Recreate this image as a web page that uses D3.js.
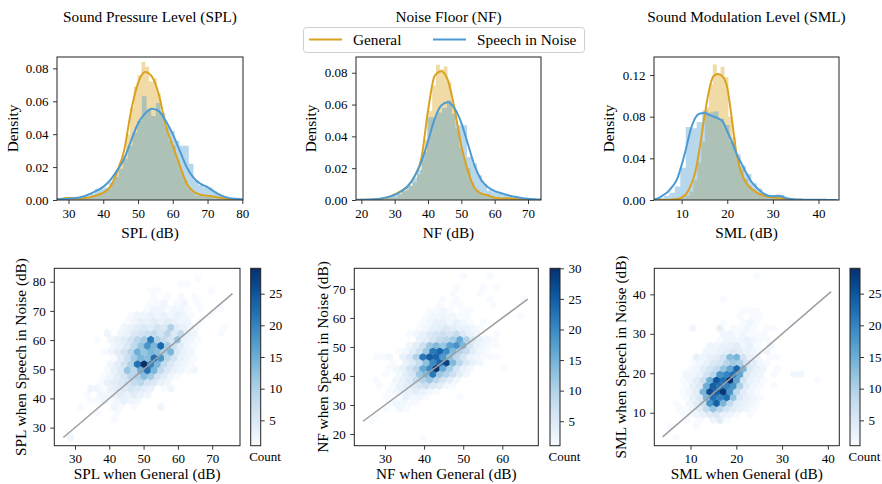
<!DOCTYPE html>
<html>
<head>
<meta charset="utf-8">
<script src="https://cdn.jsdelivr.net/npm/d3@7"></script>
<style>
  body { margin: 0; background: #fff; }
  text { font-family: "Liberation Serif", "Times New Roman", serif; fill: #000; }
</style>
</head>
<body>
<svg id="chart" width="882" height="484"></svg>
<script>
// ---------- shared labels ----------
const metricTitles = ["Sound Pressure Level (SPL)", "Noise Floor (NF)", "Sound Modulation Level (SML)"];
const metricShort = ["SPL", "NF", "SML"];
const seriesNames = ["General", "Speech in Noise"];
const seriesColors = ["#DAA21E", "#4C9BD2"];

// ---------- SPL ----------
const splKdeX = [26,28,30,32,34,36,38,40,42,44,46,48,50,52,54,56,58,60,62,64,66,68,70,72,74,76,78,80];
const splKdeGeneral = [0.0002,0.0008,0.0012,0.0008,0.0010,0.0016,0.0028,0.0045,0.0080,0.0170,0.0300,0.0540,0.0710,0.0778,0.0750,0.0640,0.0450,0.0330,0.0210,0.0100,0.0050,0.0032,0.0026,0.0020,0.0012,0.0005,0.0001,0.0000];
const splKdeSpeech = [0.0004,0.0006,0.0008,0.0012,0.0020,0.0035,0.0055,0.0080,0.0120,0.0180,0.0250,0.0360,0.0465,0.0525,0.0555,0.0540,0.0480,0.0400,0.0300,0.0200,0.0135,0.0098,0.0078,0.0050,0.0027,0.0013,0.0007,0.0004];
const splHistGeneralBins = [29.0, 1.1];   // first edge, bin width
const splHistGeneral = [0.0018,0.0009,0,0,0.0009,0.0009,0.0018,0.0027,0.0036,0.0036,0.0055,0.0064,0.0110,0.0155,0.0230,0.0270,0.0400,0.0560,0.0690,0.0760,0.0840,0.0810,0.0720,0.0740,0.0650,0.0520,0.0440,0.0360,0.0330,0.0240,0.0180,0.0120,0.0070,0.0045,0.0027,0.0027,0.0018,0.0018,0.0027,0.0009,0.0009];
const splHistSpeechBins = [26.8, 1.35];
const splHistSpeech = [0.0008,0,0,0.0008,0.0008,0.0015,0.0023,0.0038,0.0068,0.0068,0.0076,0.0106,0.0140,0.0190,0.0250,0.0330,0.0410,0.0480,0.0630,0.0550,0.0510,0.0590,0.0530,0.0450,0.0420,0.0360,0.0330,0.0330,0.0220,0.0120,0.0090,0.0076,0.0076,0.0053,0.0038,0.0023,0.0015,0.0008,0,0.0008,0.0008];
const splXTicks = [30,40,50,60,70,80];
const splDensityTicks = [0,0.02,0.04,0.06,0.08];
// hexagon lattice: x origin, column width, y origin, row step
const splHexGrid = [28.7, 1.95, 26.6, 2.1];
// [row, first column, counts per column]
const splHexRows = [
  [0,0,[2]],
  [3,6,[1]],
  [4,4,[1,0,0,1]],
  [5,1,[1,0,0,0,0,2,1,0,1,0,0,0,2]],
  [6,3,[1,1,2,1,2,3,2,2]],
  [7,2,[1,0,2,2,3,4,3,4,3,2]],
  [8,3,[2,2,1,3,4,5,6,5,4,3,0,1,2]],
  [9,4,[1,3,4,5,6,8,9,6,5,3,2]],
  [10,5,[1,2,4,6,9,10,13,11,6,4,2,1]],
  [11,5,[1,3,5,12,9,15,22,14,8,5,3,2,1,2]],
  [12,6,[2,4,6,10,22,29,20,14,8,5,3,2,1]],
  [13,6,[1,4,7,11,14,13,22,18,9,6,3,2,1]],
  [14,5,[1,2,4,6,9,15,12,14,13,10,14,5,3,2]],
  [15,6,[2,3,5,8,12,18,14,23,11,7,4,2,1]],
  [16,4,[1,0,2,3,4,6,9,11,21,10,8,6,12,3,2,1]],
  [17,5,[2,0,2,3,5,6,7,8,6,9,5,8,3,2,0,0,0,1]],
  [18,8,[2,3,4,5,4,6,5,10,4,3,2,1,0,0,0,1]],
  [19,8,[1,2,3,3,4,3,4,3,2,2,0,1]],
  [20,9,[1,2,2,3,2,3,2,3,2,1,0,0,1]],
  [21,11,[1,2,2,1,2,2,1,0,1,0,0,1]],
  [22,12,[1,1,2,0,1,2,0,1]],
  [23,12,[1,0,1,0,1,0,1]],
  [24,12,[1,1,0,0,0,0,0,0,0,1]],
  [25,16,[1,1]],
  [26,19,[1]]
];
const splIdentity = [26.6, 75.9];
const splHexXTicks = [30,40,50,60,70];
const splHexYTicks = [30,40,50,60,70,80];
const splCountTicks = [5,10,15,20,25];

// ---------- NF ----------
const nfKdeX = [18,20,22,24,26,28,30,32,34,36,38,40,42,44,46,48,50,52,54,56,58,60,62,64,66,68,70,72,74];
const nfKdeGeneral = [0,0.0001,0.0002,0.0003,0.0006,0.0017,0.0035,0.0058,0.0088,0.0150,0.0260,0.0560,0.0780,0.0810,0.0750,0.0570,0.0340,0.0180,0.0075,0.0040,0.0030,0.0014,0.0010,0.0011,0.0006,0.0002,0.0001,0,0];
const nfKdeSpeech = [0.0001,0.0001,0.0003,0.0005,0.0010,0.0018,0.0032,0.0055,0.0088,0.0150,0.0240,0.0370,0.0510,0.0595,0.0615,0.0575,0.0485,0.0350,0.0215,0.0125,0.0080,0.0056,0.0042,0.0030,0.0020,0.0013,0.0008,0.0005,0.0003];
const nfHistGeneralBins = [24.0, 1.15];
const nfHistGeneral = [0.0009,0,0,0.0009,0.0018,0.0018,0.0045,0.0055,0.0064,0.0090,0.0110,0.0160,0.0250,0.0380,0.0560,0.0720,0.0850,0.0820,0.0840,0.0740,0.0600,0.0450,0.0330,0.0260,0.0200,0.0110,0.0064,0.0045,0.0036,0.0036,0.0027,0.0009,0.0009,0.0009,0.0009,0.0009,0,0.0009];
const nfHistSpeechBins = [18.7, 1.5];
const nfHistSpeech = [0.0006,0,0,0.0006,0.0006,0.0012,0.0018,0.0030,0.0036,0.0060,0.0090,0.0140,0.0190,0.0300,0.0520,0.0520,0.0550,0.0580,0.0627,0.0540,0.0470,0.0470,0.0270,0.0230,0.0155,0.0100,0.0060,0.0048,0.0042,0.0030,0.0024,0.0018,0.0012,0.0006,0.0006,0,0.0006];
const nfXTicks = [20,30,40,50,60,70];
const nfDensityTicks = [0,0.02,0.04,0.06,0.08];
const nfHexGrid = [24.2, 1.72, 18.75, 1.99];
const nfHexRows = [
  [0,9,[1]],
  [3,1,[1]],
  [4,2,[1]],
  [5,3,[1,0,2,1]],
  [6,4,[1,2,2,1,1]],
  [7,3,[1,1,1,3,2,2,1,0,0,0,0,1]],
  [8,4,[1,2,3,3,4,3,2,1]],
  [9,2,[1,0,1,3,4,5,6,7,5,4,2,1]],
  [10,2,[1,0,0,2,3,5,8,10,12,9,6,4,2]],
  [11,3,[1,0,2,4,6,12,14,22,12,10,7,4,2]],
  [12,4,[1,2,3,6,9,16,20,30,16,11,6,3,2,0,0,0,0,1]],
  [13,4,[1,0,3,5,8,13,20,24,28,14,9,5,3,2]],
  [14,2,[1,1,2,0,3,5,10,22,25,24,18,13,9,6,3,2,1,1,1]],
  [15,5,[1,2,4,7,12,22,24,20,14,10,8,4,2,1]],
  [16,7,[2,4,7,12,14,12,17,19,14,6,3,2,1,1]],
  [17,8,[3,4,6,8,9,11,16,10,5,3,2,1]],
  [18,7,[1,2,3,5,6,7,6,8,5,3,2,0,0,1]],
  [19,8,[1,2,3,4,5,4,3,3,2,1]],
  [20,9,[1,2,3,3,2,3,2,1,0,1]],
  [21,9,[1,2,2,2,2,1,1,0,0,0,0,0,0,0,1]],
  [22,10,[1,1,2,1,0,1,1]],
  [23,11,[1,0,1,1,0,0,0,0,1]],
  [24,12,[1,0,1,0,0,0,0,1,0,0,0,0,1]],
  [25,13,[1,0,0,0,1]],
  [26,14,[1,0,0,0,1,0,1]],
  [28,15,[1,0,0,0,1]]
];
const nfIdentity = [24.4, 66.5];
const nfHexXTicks = [30,40,50,60];
const nfHexYTicks = [20,30,40,50,60,70];
const nfCountTicks = [5,10,15,20,25,30];

// ---------- SML ----------
const smlKdeX = [4,5,6,7,8,9,10,11,12,13,14,15,16,17,18,19,20,21,22,23,24,25,26,27,28,29,30,31,32,33,34,35,36,37,38,39,40,41,42,43,44];
const smlKdeGeneral = [0,0,0.0001,0.0003,0.0006,0.0010,0.0022,0.0058,0.0140,0.0270,0.0510,0.0800,0.1050,0.1190,0.1210,0.1185,0.1080,0.0780,0.0450,0.0270,0.0175,0.0120,0.0085,0.0060,0.0040,0.0030,0.0025,0.0021,0.0015,0.0010,0.0006,0.0003,0.0002,0.0001,0,0,0,0,0,0,0];
const smlKdeSpeech = [0.0006,0.0020,0.0048,0.0080,0.0130,0.0200,0.0336,0.0500,0.0680,0.0790,0.0830,0.0835,0.0818,0.0800,0.0784,0.0755,0.0660,0.0560,0.0448,0.0360,0.0275,0.0195,0.0140,0.0095,0.0062,0.0040,0.0036,0.0042,0.0034,0.0016,0.0010,0.0006,0.0004,0.0003,0.0002,0.0002,0.0002,0.0002,0.0001,0.0001,0.0001];
const smlHistGeneralBins = [7.5, 0.85];
const smlHistGeneral = [0.0010,0,0.0010,0.0020,0.0040,0.0080,0.0190,0.0360,0.0560,0.0890,0.1110,0.1300,0.1210,0.1280,0.1180,0.0800,0.0600,0.0380,0.0300,0.0200,0.0130,0.0100,0.0060,0.0050,0.0040,0.0030,0.0020,0.0020,0.0020,0.0010,0.0010,0.0010];
const smlHistSpeechBins = [3.7, 1.2];
const smlHistSpeech = [0.0010,0.0020,0.0040,0.0070,0.0130,0.0310,0.0700,0.0690,0.0750,0.0860,0.0840,0.0850,0.0780,0.0720,0.0560,0.0440,0.0330,0.0250,0.0160,0.0110,0.0060,0.0040,0.0040,0.0050,0.0020,0.0010,0.0010,0,0.0005,0,0,0,0,0.0005];
const smlXTicks = [10,20,30,40];
const smlDensityTicks = [0,0.04,0.08,0.12];
const smlHexGrid = [3.92, 1.47, 3.69, 1.46];
const smlHexRows = [
  [0,2,[1]],
  [2,1,[1,0,0,0,1]],
  [3,3,[1,0,1,0,2,4,1]],
  [4,3,[1,1,2,3,4,5,3,2,1,0,1]],
  [5,2,[1,1,2,4,8,12,9,6,4,3,2,1]],
  [6,2,[1,0,2,4,7,18,24,14,8,4,3,2,1]],
  [7,3,[1,3,5,14,22,20,22,12,5,3,2,1]],
  [8,3,[1,2,4,14,26,24,28,18,8,4,2,1]],
  [9,3,[1,3,5,15,24,22,20,18,10,4,2,1,0,1]],
  [10,3,[1,2,4,7,15,25,22,29,16,6,3,2,1,0,0,0,0,0,0,0,1]],
  [11,3,[2,2,3,6,9,18,20,22,16,5,3,2,0,1,0,0,2,2]],
  [12,4,[1,2,4,6,8,12,16,23,14,5,3,2,0,1]],
  [13,4,[1,2,3,5,6,9,11,10,6,4,2,1]],
  [14,5,[3,2,3,4,6,13,14,6,3,2,0,1,1]],
  [15,6,[2,2,3,4,5,4,3,2,1,2]],
  [16,7,[2,2,3,3,4,2,3,1,0,2]],
  [17,8,[1,2,2,2,3,2,1,1]],
  [18,9,[2,2,1,2,1,1,1]],
  [19,4,[2,0,0,0,3,0,1,1,2,1,0,1,1]],
  [20,9,[1,0,0,1,2,1,0,0,0,0,1]],
  [21,11,[1,0,1,1]],
  [22,12,[1,1,1]],
  [24,9,[1]],
  [28,14,[1]]
];
const smlIdentity = [3.9, 40.7];
const smlHexXTicks = [10,20,30,40];
const smlHexYTicks = [10,20,30,40];
const smlCountTicks = [5,10,15,20,25];

// ---------- panel tables ----------
const densityPanels = [
  { name: 0, kdeX: splKdeX, kde: [splKdeGeneral, splKdeSpeech],
    hist: [[splHistGeneralBins, splHistGeneral], [splHistSpeechBins, splHistSpeech]],
    xDomain: [26.7, 80.2], yDomain: [0, 0.0869], xTicks: splXTicks, yTicks: splDensityTicks,
    left: 57, right: 243, labelX: 17.5 },
  { name: 1, kdeX: nfKdeX, kde: [nfKdeGeneral, nfKdeSpeech],
    hist: [[nfHistGeneralBins, nfHistGeneral], [nfHistSpeechBins, nfHistSpeech]],
    xDomain: [18.4, 73.9], yDomain: [0, 0.0899], xTicks: nfXTicks, yTicks: nfDensityTicks,
    left: 356, right: 541, labelX: 315.5 },
  { name: 2, kdeX: smlKdeX, kde: [smlKdeGeneral, smlKdeSpeech],
    hist: [[smlHistGeneralBins, smlHistGeneral], [smlHistSpeechBins, smlHistSpeech]],
    xDomain: [3.94, 44.5], yDomain: [0, 0.1373], xTicks: smlXTicks, yTicks: smlDensityTicks,
    left: 654, right: 839, labelX: 613.5 }
];
const hexPanels = [
  { name: 0, grid: splHexGrid, rows: splHexRows, identity: splIdentity,
    xDomain: [23.97, 78.1], yDomain: [23.8, 84.6], xTicks: splHexXTicks, yTicks: splHexYTicks,
    countTicks: splCountTicks, left: 54.3, right: 240, cbLeft: 250.7, labelX: 25.5 },
  { name: 1, grid: nfHexGrid, rows: nfHexRows, identity: nfIdentity,
    xDomain: [22.15, 69.2], yDomain: [15.97, 77.1], xTicks: nfHexXTicks, yTicks: nfHexYTicks,
    countTicks: nfCountTicks, left: 354.3, right: 538.3, cbLeft: 550, labelX: 327.5 },
  { name: 2, grid: smlHexGrid, rows: smlHexRows, identity: smlIdentity,
    xDomain: [2.08, 42.5], yDomain: [1.65, 46.6], xTicks: smlHexXTicks, yTicks: smlHexYTicks,
    countTicks: smlCountTicks, left: 654.3, right: 839.3, cbLeft: 850, labelX: 625.5 }
];

const TOP1 = 57, BOTTOM1 = 200, TOP2 = 268.3, BOTTOM2 = 445.7;
const TICK = 13, LABEL = 15.3, FRAME = "#222";

const svg = d3.select("#chart");
const defs = svg.append("defs");

function styleAxis(sel) {
  sel.attr("font-family", null);
  sel.select(".domain").remove();
  sel.selectAll(".tick line").attr("stroke", FRAME).attr("stroke-width", 0.9);
  sel.selectAll(".tick text").attr("font-size", TICK)
    .attr("font-family", '"Liberation Serif","Times New Roman",serif').attr("fill", "#000");
}

function frame(g, x0, y0, x1, y1) {
  g.append("rect").attr("x", x0).attr("y", y0).attr("width", x1 - x0).attr("height", y1 - y0)
    .attr("fill", "none").attr("stroke", FRAME).attr("stroke-width", 1);
}

function clipRect(id, x0, y0, x1, y1) {
  defs.append("clipPath").attr("id", id).append("rect")
    .attr("x", x0).attr("y", y0).attr("width", x1 - x0).attr("height", y1 - y0);
  return `url(#${id})`;
}

// ---------- top row: histograms with density curves ----------
densityPanels.forEach((p, i) => {
  const x = d3.scaleLinear().domain(p.xDomain).range([p.left, p.right]);
  const y = d3.scaleLinear().domain(p.yDomain).range([BOTTOM1, TOP1]);
  const g = svg.append("g");
  const plot = g.append("g").attr("clip-path", clipRect("dclip" + i, p.left, TOP1, p.right, BOTTOM1));

  const area = d3.area().x(d => x(d[0])).y0(y(0)).y1(d => y(d[1])).curve(d3.curveStepAfter);
  p.hist.forEach(([bins, heights], s) => {
    const [start, w] = bins;
    const pts = heights.map((h, k) => [start + k * w, h]);
    pts.push([start + heights.length * w, 0]);
    plot.append("path").attr("d", area(pts))
      .attr("fill", seriesColors[s]).attr("fill-opacity", 0.4);
  });

  const line = d3.line().x(d => x(d[0])).y(d => y(d[1])).curve(d3.curveMonotoneX);
  p.kde.forEach((vals, s) => {
    plot.append("path").attr("d", line(p.kdeX.map((v, k) => [v, vals[k]])))
      .attr("fill", "none").attr("stroke", seriesColors[s]).attr("stroke-width", 2);
  });

  g.append("g").attr("transform", `translate(0,${BOTTOM1})`)
    .call(d3.axisBottom(x).tickValues(p.xTicks).tickSize(4).tickPadding(4.5).tickFormat(d3.format("d")))
    .call(styleAxis);
  g.append("g").attr("transform", `translate(${p.left},0)`)
    .call(d3.axisLeft(y).tickValues(p.yTicks).tickSize(4).tickPadding(4.5).tickFormat(d3.format(".2f")))
    .call(styleAxis);
  frame(g, p.left, TOP1, p.right, BOTTOM1);

  const cx = (p.left + p.right) / 2;
  g.append("text").attr("x", cx).attr("y", 21.5).attr("text-anchor", "middle")
    .attr("font-size", LABEL).text(metricTitles[p.name]);
  g.append("text").attr("x", cx).attr("y", 238).attr("text-anchor", "middle")
    .attr("font-size", LABEL).text(`${metricShort[p.name]} (dB)`);
  g.append("text").attr("transform", `translate(${p.labelX},${(TOP1 + BOTTOM1) / 2}) rotate(-90)`)
    .attr("text-anchor", "middle").attr("font-size", LABEL).text("Density");
});

// ---------- legend ----------
const legend = svg.append("g");
legend.append("rect").attr("x", 303.5).attr("y", 27.5).attr("width", 281).attr("height", 25)
  .attr("rx", 3).attr("fill", "#fff").attr("fill-opacity", 0.85).attr("stroke", "#cfcfcf");
const legendX = [309, 433];
seriesNames.forEach((name, s) => {
  legend.append("line").attr("x1", legendX[s]).attr("x2", legendX[s] + 33)
    .attr("y1", 39.5).attr("y2", 39.5).attr("stroke", seriesColors[s]).attr("stroke-width", 2);
  legend.append("text").attr("x", legendX[s] + 44).attr("y", 44.5)
    .attr("font-size", LABEL).text(name);
});

// ---------- bottom row: hexbin comparisons ----------
hexPanels.forEach((h, i) => {
  const x = d3.scaleLinear().domain(h.xDomain).range([h.left, h.right]);
  const y = d3.scaleLinear().domain(h.yDomain).range([BOTTOM2, TOP2]);
  const g = svg.append("g");
  const plot = g.append("g").attr("clip-path", clipRect("hclip" + i, h.left, TOP2, h.right, BOTTOM2));

  const [x0, dx, y0, dy] = h.grid;
  const cells = [];
  h.rows.forEach(([r, c0, counts]) => {
    counts.forEach((n, k) => {
      if (n > 0) cells.push({ x: x0 + (c0 + k + (r % 2 ? 0.5 : 0)) * dx, y: y0 + r * dy, n });
    });
  });
  const maxCount = d3.max(cells, d => d.n);
  const color = d3.scaleSequential(d3.interpolateBlues).domain([1, maxCount]);

  const sx = x(x0 + dx) - x(x0);
  const sy = y(y0) - y(y0 + 2 * dy);
  const hex = `M${sx / 2},${-sy / 6}L${sx / 2},${sy / 6}L0,${sy / 3}L${-sx / 2},${sy / 6}L${-sx / 2},${-sy / 6}L0,${-sy / 3}Z`;
  plot.append("g").selectAll("path").data(cells).join("path")
    .attr("d", hex)
    .attr("transform", d => `translate(${x(d.x)},${y(d.y)})`)
    .attr("fill", d => color(d.n))
    .attr("stroke", d => color(d.n)).attr("stroke-width", 0.4);

  plot.append("line")
    .attr("x1", x(h.identity[0])).attr("y1", y(h.identity[0]))
    .attr("x2", x(h.identity[1])).attr("y2", y(h.identity[1]))
    .attr("stroke", "#9e9e9e").attr("stroke-width", 1.5);

  g.append("g").attr("transform", `translate(0,${BOTTOM2})`)
    .call(d3.axisBottom(x).tickValues(h.xTicks).tickSize(4).tickPadding(4.5).tickFormat(d3.format("d")))
    .call(styleAxis);
  g.append("g").attr("transform", `translate(${h.left},0)`)
    .call(d3.axisLeft(y).tickValues(h.yTicks).tickSize(4).tickPadding(4.5).tickFormat(d3.format("d")))
    .call(styleAxis);
  frame(g, h.left, TOP2, h.right, BOTTOM2);

  const short = metricShort[h.name];
  g.append("text").attr("x", (h.left + h.right) / 2).attr("y", 479).attr("text-anchor", "middle")
    .attr("font-size", LABEL).text(`${short} when General (dB)`);
  g.append("text").attr("transform", `translate(${h.labelX},${(TOP2 + BOTTOM2) / 2}) rotate(-90)`)
    .attr("text-anchor", "middle").attr("font-size", LABEL).text(`${short} when Speech in Noise (dB)`);

  // colour bar
  const gradId = "grad" + i;
  const grad = defs.append("linearGradient").attr("id", gradId)
    .attr("x1", 0).attr("y1", 1).attr("x2", 0).attr("y2", 0);
  d3.range(0, 1.0001, 0.05).forEach(t => {
    grad.append("stop").attr("offset", t).attr("stop-color", d3.interpolateBlues(t));
  });
  const cbW = 10;
  g.append("rect").attr("x", h.cbLeft).attr("y", TOP2).attr("width", cbW).attr("height", BOTTOM2 - TOP2)
    .attr("fill", `url(#${gradId})`);
  const cScale = d3.scaleLinear().domain([1, maxCount]).range([BOTTOM2, TOP2]);
  g.append("g").attr("transform", `translate(${h.cbLeft + cbW},0)`)
    .call(d3.axisRight(cScale).tickValues(h.countTicks).tickSize(4).tickPadding(4.5).tickFormat(d3.format("d")))
    .call(styleAxis);
  frame(g, h.cbLeft, TOP2, h.cbLeft + cbW, BOTTOM2);
  g.append("text").attr("x", h.cbLeft - 1.5).attr("y", 460.5).attr("font-size", TICK).text("Count");
});
</script>
</body>
</html>
